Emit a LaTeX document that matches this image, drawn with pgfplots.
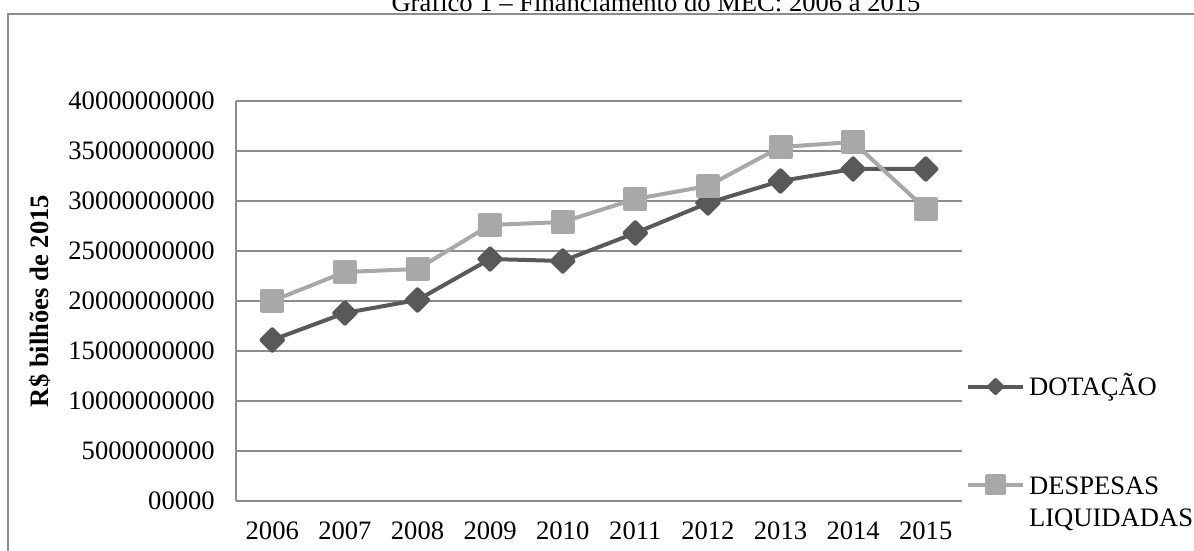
\documentclass[border=0pt]{standalone}
\usepackage{fontspec}
\setmainfont{Liberation Serif}
\usepackage{pgfplots}
\pgfplotsset{compat=1.18}
\definecolor{dotacao}{HTML}{595959}
\definecolor{despesas}{HTML}{A8A8A8}
\definecolor{grade}{HTML}{8C8C8C}
\begin{document}
\fontsize{13.3pt}{16pt}\selectfont
\begin{tikzpicture}
\path[use as bounding box] (0,0) rectangle (597pt,-275.5pt);
\clip (0,0) rectangle (597pt,-275.5pt);
\node[anchor=base, inner sep=0pt] at (328pt,-6pt) {Gráfico 1 – Financiamento do MEC: 2006 a 2015};
\draw[grade, line width=1pt] (4pt,-290pt) -- (4pt,-7pt) -- (610pt,-7pt);
\begin{axis}[
    at={(118pt,-250.5pt)}, anchor=south west,
    scale only axis, width=363pt, height=200pt,
    xmin=-0.5, xmax=9.5, ymin=0, ymax=40e9,
    xtick={0,...,9},
    xticklabels={2006,2007,2008,2009,2010,2011,2012,2013,2014,2015},
    ytick={0,5e9,10e9,15e9,20e9,25e9,30e9,35e9,40e9},
    yticklabels={00000,5000000000,10000000000,15000000000,20000000000,25000000000,30000000000,35000000000,40000000000},
    scaled y ticks=false,
    /pgf/number format/assume math mode=true,
    major tick length=0pt,
    ymajorgrids, grid style={grade, line width=0.75pt},
    axis x line*=bottom, axis y line*=left,
    axis line style={grade, line width=0.75pt, -},
    xticklabel style={yshift=-6pt},
    yticklabel style={xshift=-6pt},
    ylabel={\bfseries R\$ bilhões de 2015},
    ylabel style={at={(axis description cs:-0.27,0.5)}, anchor=center},
    legend style={at={(axis description cs:1.005,0.33)}, anchor=north west,
        draw=none, fill=none, inner sep=0pt, row sep=32pt, column sep=0pt},
    legend cell align=left,
    legend image code/.code={\draw[mark repeat=2, mark phase=2, #1] plot coordinates {(0pt,0pt) (13.75pt,0pt) (27.5pt,0pt)};},
]
\addplot[dotacao, line width=2pt, line join=round, mark=square*, mark size=3.8pt,
    mark options={rotate=45, solid, fill=dotacao},
    legend image post style={mark size=2.3pt}] coordinates {
    (0,16.1e9) (1,18.8e9) (2,20.1e9) (3,24.2e9) (4,24.0e9)
    (5,26.8e9) (6,29.8e9) (7,32.0e9) (8,33.2e9) (9,33.2e9)
};
\addlegendentry{DOTAÇÃO}
\addplot[despesas, line width=2pt, line join=round, mark=square*, mark size=5pt,
    mark options={solid, fill=despesas},
    legend image post style={mark size=4.2pt}] coordinates {
    (0,20.0e9) (1,22.9e9) (2,23.2e9) (3,27.6e9) (4,27.9e9)
    (5,30.2e9) (6,31.5e9) (7,35.4e9) (8,35.9e9) (9,29.2e9)
};
\addlegendentry{\begin{tabular}[t]{@{}l@{}}DESPESAS\\LIQUIDADAS\end{tabular}}
\end{axis}
\end{tikzpicture}
\end{document}
